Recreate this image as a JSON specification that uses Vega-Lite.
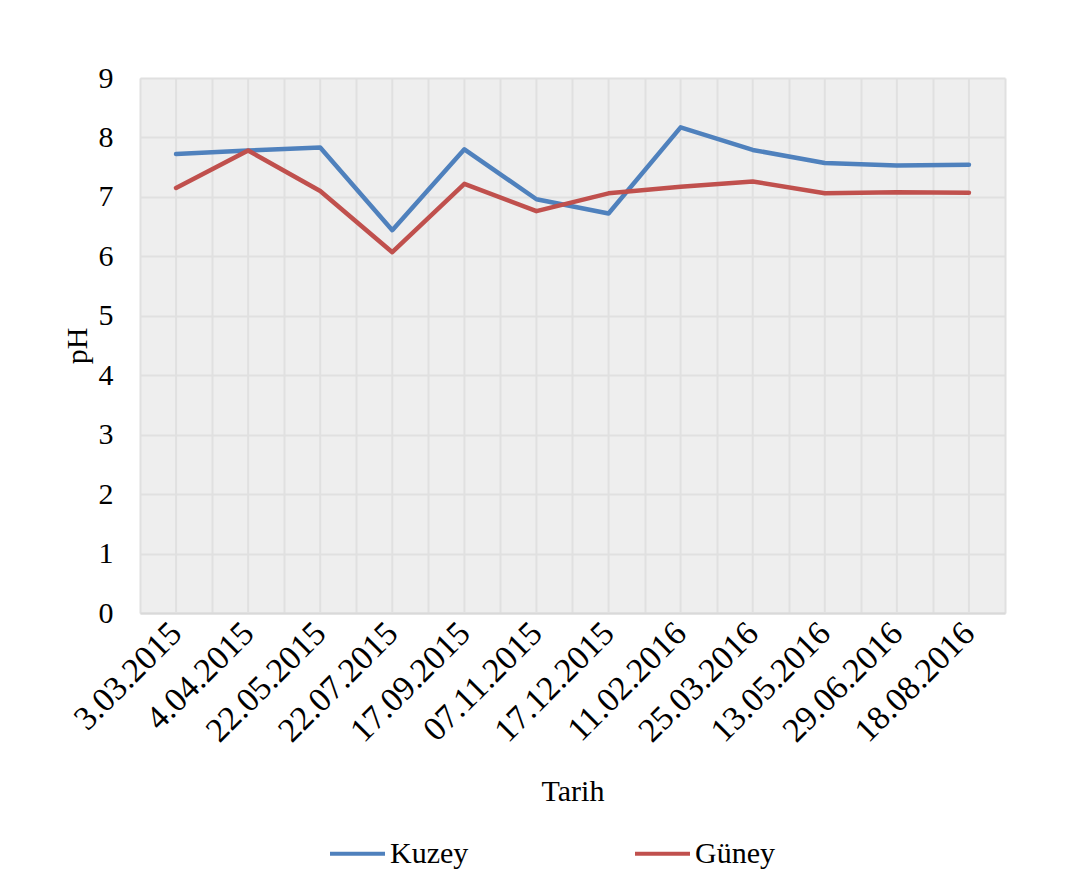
{
  "$schema": "https://vega.github.io/schema/vega-lite/v6.json",
  "width": 865,
  "height": 535,
  "autosize": {"type": "none"},
  "padding": {"left": 140, "top": 78, "right": 79, "bottom": 270},
  "background": "white",
  "config": {
    "view": {"fill": "#eeeeee", "stroke": null},
    "font": "Liberation Serif"
  },
  "data": {
    "values": [
      {"date": "3.03.2015", "series": "Kuzey", "pH": 7.72},
      {"date": "4.04.2015", "series": "Kuzey", "pH": 7.78},
      {"date": "22.05.2015", "series": "Kuzey", "pH": 7.83},
      {"date": "22.07.2015", "series": "Kuzey", "pH": 6.44},
      {"date": "17.09.2015", "series": "Kuzey", "pH": 7.8},
      {"date": "07.11.2015", "series": "Kuzey", "pH": 6.96},
      {"date": "17.12.2015", "series": "Kuzey", "pH": 6.72},
      {"date": "11.02.2016", "series": "Kuzey", "pH": 8.17},
      {"date": "25.03.2016", "series": "Kuzey", "pH": 7.79},
      {"date": "13.05.2016", "series": "Kuzey", "pH": 7.57},
      {"date": "29.06.2016", "series": "Kuzey", "pH": 7.53},
      {"date": "18.08.2016", "series": "Kuzey", "pH": 7.54},
      {"date": "3.03.2015", "series": "Güney", "pH": 7.15},
      {"date": "4.04.2015", "series": "Güney", "pH": 7.78},
      {"date": "22.05.2015", "series": "Güney", "pH": 7.1},
      {"date": "22.07.2015", "series": "Güney", "pH": 6.07},
      {"date": "17.09.2015", "series": "Güney", "pH": 7.22},
      {"date": "07.11.2015", "series": "Güney", "pH": 6.76},
      {"date": "17.12.2015", "series": "Güney", "pH": 7.06},
      {"date": "11.02.2016", "series": "Güney", "pH": 7.17},
      {"date": "25.03.2016", "series": "Güney", "pH": 7.26},
      {"date": "13.05.2016", "series": "Güney", "pH": 7.06},
      {"date": "29.06.2016", "series": "Güney", "pH": 7.08},
      {"date": "18.08.2016", "series": "Güney", "pH": 7.07}
    ]
  },
  "layer": [
    {
      "transform": [{"filter": "datum.series === 'Kuzey'"}],
      "mark": {"type": "rule", "color": "#e0e0e0", "strokeWidth": 2},
      "encoding": {
        "x": {"field": "date", "type": "ordinal", "sort": null, "bandPosition": 0.5,
              "scale": {"type": "band", "paddingInner": 0, "paddingOuter": 0}}
      }
    },
    {
      "mark": {"type": "line", "strokeWidth": 4.5, "strokeJoin": "round", "strokeCap": "round"},
      "encoding": {
        "x": {
          "field": "date", "type": "ordinal", "sort": null, "bandPosition": 0.5,
          "scale": {"type": "band", "paddingInner": 0, "paddingOuter": 0},
          "axis": {
            "title": "Tarih",
            "titleFontSize": 30, "titleFontWeight": "normal", "titleColor": "black",
            "titleFont": "Liberation Serif", "titlePadding": 28,
            "labelAngle": -45, "labelFontSize": 34, "labelColor": "black",
            "labelFont": "Liberation Serif", "labelPadding": 15,
            "ticks": false, "domain": true, "domainColor": "#d9d9d9", "domainWidth": 2,
            "grid": true, "tickBand": "extent", "gridColor": "#e0e0e0", "gridWidth": 2
          }
        },
        "y": {
          "field": "pH", "type": "quantitative",
          "scale": {"domain": [0, 9], "nice": false},
          "axis": {
            "title": "pH", "values": [0, 1, 2, 3, 4, 5, 6, 7, 8, 9],
            "titleFontSize": 30, "titleFontWeight": "normal", "titleColor": "black",
            "titleFont": "Liberation Serif", "titlePadding": 6,
            "labelFontSize": 30, "labelColor": "black", "labelFont": "Liberation Serif",
            "labelPadding": 27, "ticks": false, "domain": false,
            "grid": true, "gridColor": "#e0e0e0", "gridWidth": 2
          }
        },
        "color": {
          "field": "series", "type": "nominal",
          "scale": {"domain": ["Kuzey", "Güney"], "range": ["#4f81bd", "#c0504d"]},
          "legend": {
            "title": null, "orient": "none", "legendX": 188, "legendY": 746,
            "direction": "horizontal", "symbolType": "stroke", "symbolSize": 3025,
            "symbolStrokeWidth": 4, "labelFontSize": 30, "labelColor": "black",
            "labelFont": "Liberation Serif", "labelOffset": 3, "columnPadding": 158
          }
        }
      }
    }
  ]
}
